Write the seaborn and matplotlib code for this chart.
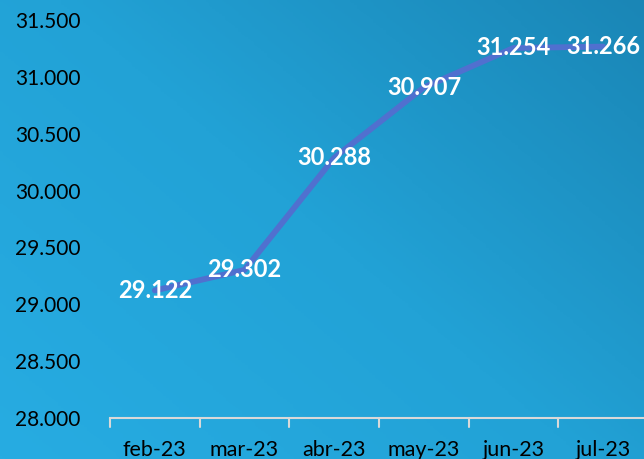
import numpy as np
import pandas as pd
import matplotlib
matplotlib.use("Agg")
import matplotlib.pyplot as plt
from matplotlib.colors import LinearSegmentedColormap
import seaborn as sns

months = ["feb-23", "mar-23", "abr-23", "may-23", "jun-23", "jul-23"]
values = [29122, 29302, 30288, 30907, 31254, 31266]
yticks = [28000, 28500, 29000, 29500, 30000, 30500, 31000, 31500]

def fmt(v):
    return f"{v:,.0f}".replace(",", ".")

sns.set_theme(style="white")
plt.rcParams["font.family"] = ["Lato", "DejaVu Sans"]

fig = plt.figure(figsize=(6.44, 4.59), dpi=100)

# gradient background
bg = fig.add_axes([0, 0, 1, 1], zorder=0)
xx, yy = np.meshgrid(np.linspace(0, 1, 200), np.linspace(0, 1, 200))
grad = (xx * 0.55 + yy * 0.45)
cmap = LinearSegmentedColormap.from_list("bg", ["#27ace2", "#22a2d6", "#1a86b6"])
bg.imshow(grad, cmap=cmap, origin="lower", aspect="auto", extent=[0, 1, 0, 1])
bg.axis("off")

ax = fig.add_axes([110/644, 1 - 418/459, 538/644, (418 - 20)/459], zorder=1)
ax.patch.set_alpha(0)

df = pd.DataFrame({"month": months, "value": values})
x = np.arange(len(months))
sns.lineplot(x=x, y=df["value"], ax=ax, color="#5070cf", linewidth=4.2,
             solid_joinstyle="round", solid_capstyle="round")

for xi, v in zip(x, values):
    ax.text(xi, v, fmt(v), ha="center", va="center", color="white",
            fontsize=17, fontweight="bold")

ax.set_xlim(-0.5, len(months) - 0.5)
ax.set_ylim(28000, 31500)
ax.set_yticks(yticks)
ax.set_yticklabels([fmt(t) for t in yticks], fontsize=15, color="#000000")
ax.set_xticks(x)
ax.set_xticklabels(months, fontsize=15.5, color="#000000")
ax.set_xlabel("")
ax.set_ylabel("")

for s in ["top", "right", "left"]:
    ax.spines[s].set_visible(False)
ax.spines["bottom"].set_color("#d9d9d9")
ax.spines["bottom"].set_linewidth(1.5)

ax.tick_params(axis="y", length=0, pad=21)
ax.tick_params(axis="x", length=0, pad=16)
# boundary ticks between categories
for b in np.arange(-0.5, len(months), 1.0):
    ax.plot([b, b], [28000, 28000 - 80], color="#d9d9d9", lw=1.5, clip_on=False)

fig.savefig("out.png", dpi=100)
